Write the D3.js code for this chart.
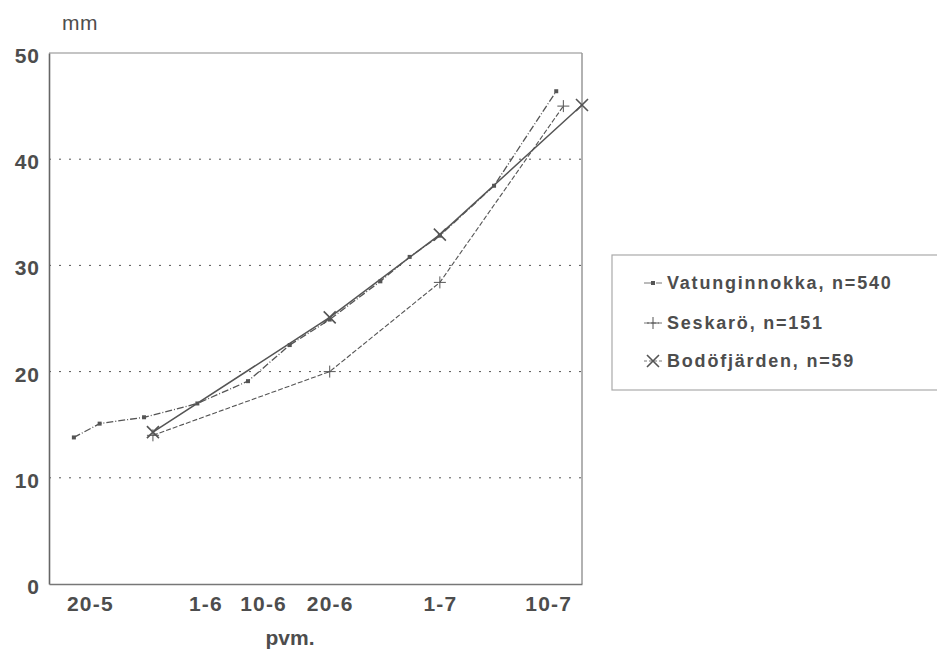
<!DOCTYPE html>
<html>
<head>
<meta charset="utf-8">
<script src="https://cdn.jsdelivr.net/npm/d3@7"></script>
<style>
  html, body { margin: 0; padding: 0; background: #fff; }
  svg { display: block; }
  text { font-family: "Liberation Sans", Arial, Helvetica, sans-serif; fill: #4d4d4d; }
</style>
</head>
<body>
<svg id="chart" width="937" height="672"></svg>
<script>
// Sampling position along the season axis (axis units) and mean length in mm
const vatunX = [2.8, 5.7, 10.7, 16.7, 22.4, 27.1, 31.6, 37.3, 40.6, 44.0, 50.1, 57.1];
const vatunY = [13.8, 15.1, 15.7, 17.0, 19.1, 22.5, 24.9, 28.5, 30.8, 32.8, 37.5, 46.4];

const seskaroX = [11.7, 31.6, 44.0, 57.9];
const seskaroY = [14.0, 20.0, 28.4, 45.0];

const bodoX = [11.7, 31.6, 44.0, 60.0];
const bodoY = [14.3, 25.1, 32.9, 45.1];

const seriesNames = ["Vatunginnokka, n=540", "Seskarö, n=151", "Bodöfjärden, n=59"];

const xTickPos = [4.6, 17.6, 24.1, 31.6, 44.0, 56.2];
const xTickLabels = ["20-5", "1-6", "10-6", "20-6", "1-7", "10-7"];
const yTicks = [0, 10, 20, 30, 40, 50];
const gridTicks = [10, 20, 30, 40];

const svg = d3.select("#chart");
const ink = "#555";

const x = d3.scaleLinear().domain([0, 60]).range([49, 582]);
const y = d3.scaleLinear().domain([0, 50]).range([584, 53]);

// plot frame
const frame = svg.append("g");
frame.append("line").attr("x1", x(0)).attr("x2", x(60)).attr("y1", y(50)).attr("y2", y(50))
  .attr("stroke", "#8a8a8a").attr("stroke-width", 1.2);
frame.append("line").attr("x1", x(60)).attr("x2", x(60)).attr("y1", y(50)).attr("y2", y(0))
  .attr("stroke", "#999").attr("stroke-width", 1.5);

// dotted horizontal gridlines
svg.append("g").selectAll("line").data(gridTicks).join("line")
  .attr("x1", x(0)).attr("x2", x(60))
  .attr("y1", d => y(d)).attr("y2", d => y(d))
  .attr("stroke", ink).attr("stroke-width", 1)
  .attr("stroke-dasharray", "2,8");

// axes (no tick marks, only labels)
const yAxis = d3.axisLeft(y).tickValues(yTicks).tickSize(0).tickPadding(9).tickFormat(d3.format("d"));
const gy = svg.append("g").attr("transform", `translate(${x(0)},0)`).call(yAxis);
gy.select(".domain").attr("stroke", "#666").attr("stroke-width", 1.6);
gy.selectAll("text").attr("font-size", 21).attr("font-weight", "bold").attr("fill", "#4d4d4d")
  .attr("letter-spacing", 1).attr("dy", "0.45em")
  .attr("font-family", "Liberation Sans, Arial, sans-serif");

const xAxis = d3.axisBottom(x).tickValues(xTickPos).tickSize(0).tickPadding(12)
  .tickFormat((d, i) => xTickLabels[i]);
const gx = svg.append("g").attr("transform", `translate(0,${y(0)})`).call(xAxis);
gx.select(".domain").attr("stroke", "#777").attr("stroke-width", 1.4);
gx.selectAll("text").attr("font-size", 21).attr("font-weight", "bold").attr("fill", "#4d4d4d")
  .attr("letter-spacing", 1.2)
  .attr("font-family", "Liberation Sans, Arial, sans-serif");

// axis titles
svg.append("text").attr("x", 62).attr("y", 30).attr("font-size", 21).attr("letter-spacing", 0.5).text("mm");
svg.append("text").attr("x", 290).attr("y", 645).attr("text-anchor", "middle")
  .attr("font-size", 21).attr("font-weight", "bold").text("pvm.");

// markers
function squareMark(g, cx, cy) {
  g.append("rect").attr("x", cx - 2).attr("y", cy - 2).attr("width", 4).attr("height", 4)
    .attr("fill", ink);
}
function plusMark(g, cx, cy) {
  const s = 6;
  g.append("path").attr("d", `M${cx - s},${cy}H${cx + s}M${cx},${cy - s}V${cy + s}`)
    .attr("stroke", ink).attr("stroke-width", 1).attr("fill", "none");
}
function crossMark(g, cx, cy) {
  const s = 6;
  g.append("path").attr("d", `M${cx - s},${cy - s}L${cx + s},${cy + s}M${cx - s},${cy + s}L${cx + s},${cy - s}`)
    .attr("stroke", ink).attr("stroke-width", 1.6).attr("fill", "none");
}

const series = [
  { xs: vatunX, ys: vatunY, dash: "7,2,1,2", width: 1.3, mark: squareMark },
  { xs: seskaroX, ys: seskaroY, dash: "5,2", width: 1.1, mark: plusMark },
  { xs: bodoX, ys: bodoY, dash: null, width: 1.5, mark: crossMark }
];

const line = d3.line().x(d => x(d[0])).y(d => y(d[1]));

series.forEach(s => {
  const pts = s.xs.map((v, i) => [v, s.ys[i]]);
  const g = svg.append("g");
  g.append("path").datum(pts).attr("d", line)
    .attr("fill", "none").attr("stroke", ink).attr("stroke-width", s.width)
    .attr("stroke-dasharray", s.dash);
  pts.forEach(p => s.mark(g, x(p[0]), y(p[1])));
});

// legend
const lg = svg.append("g");
lg.append("rect").attr("x", 612).attr("y", 255).attr("width", 340).attr("height", 135)
  .attr("fill", "none").attr("stroke", "#aaa").attr("stroke-width", 1.2);
const rowsY = [283, 323, 361];
series.forEach((s, i) => {
  const ry = rowsY[i];
  lg.append("line").attr("x1", 644).attr("x2", 662).attr("y1", ry).attr("y2", ry)
    .attr("stroke", "#777").attr("stroke-width", 1).attr("stroke-dasharray", s.dash || "3,2");
  s.mark(lg, 653, ry);
  lg.append("text").attr("x", 667).attr("y", ry + 6).attr("font-size", 18)
    .attr("font-weight", "bold").attr("letter-spacing", 1.8).text(seriesNames[i]);
});
</script>
</body>
</html>
